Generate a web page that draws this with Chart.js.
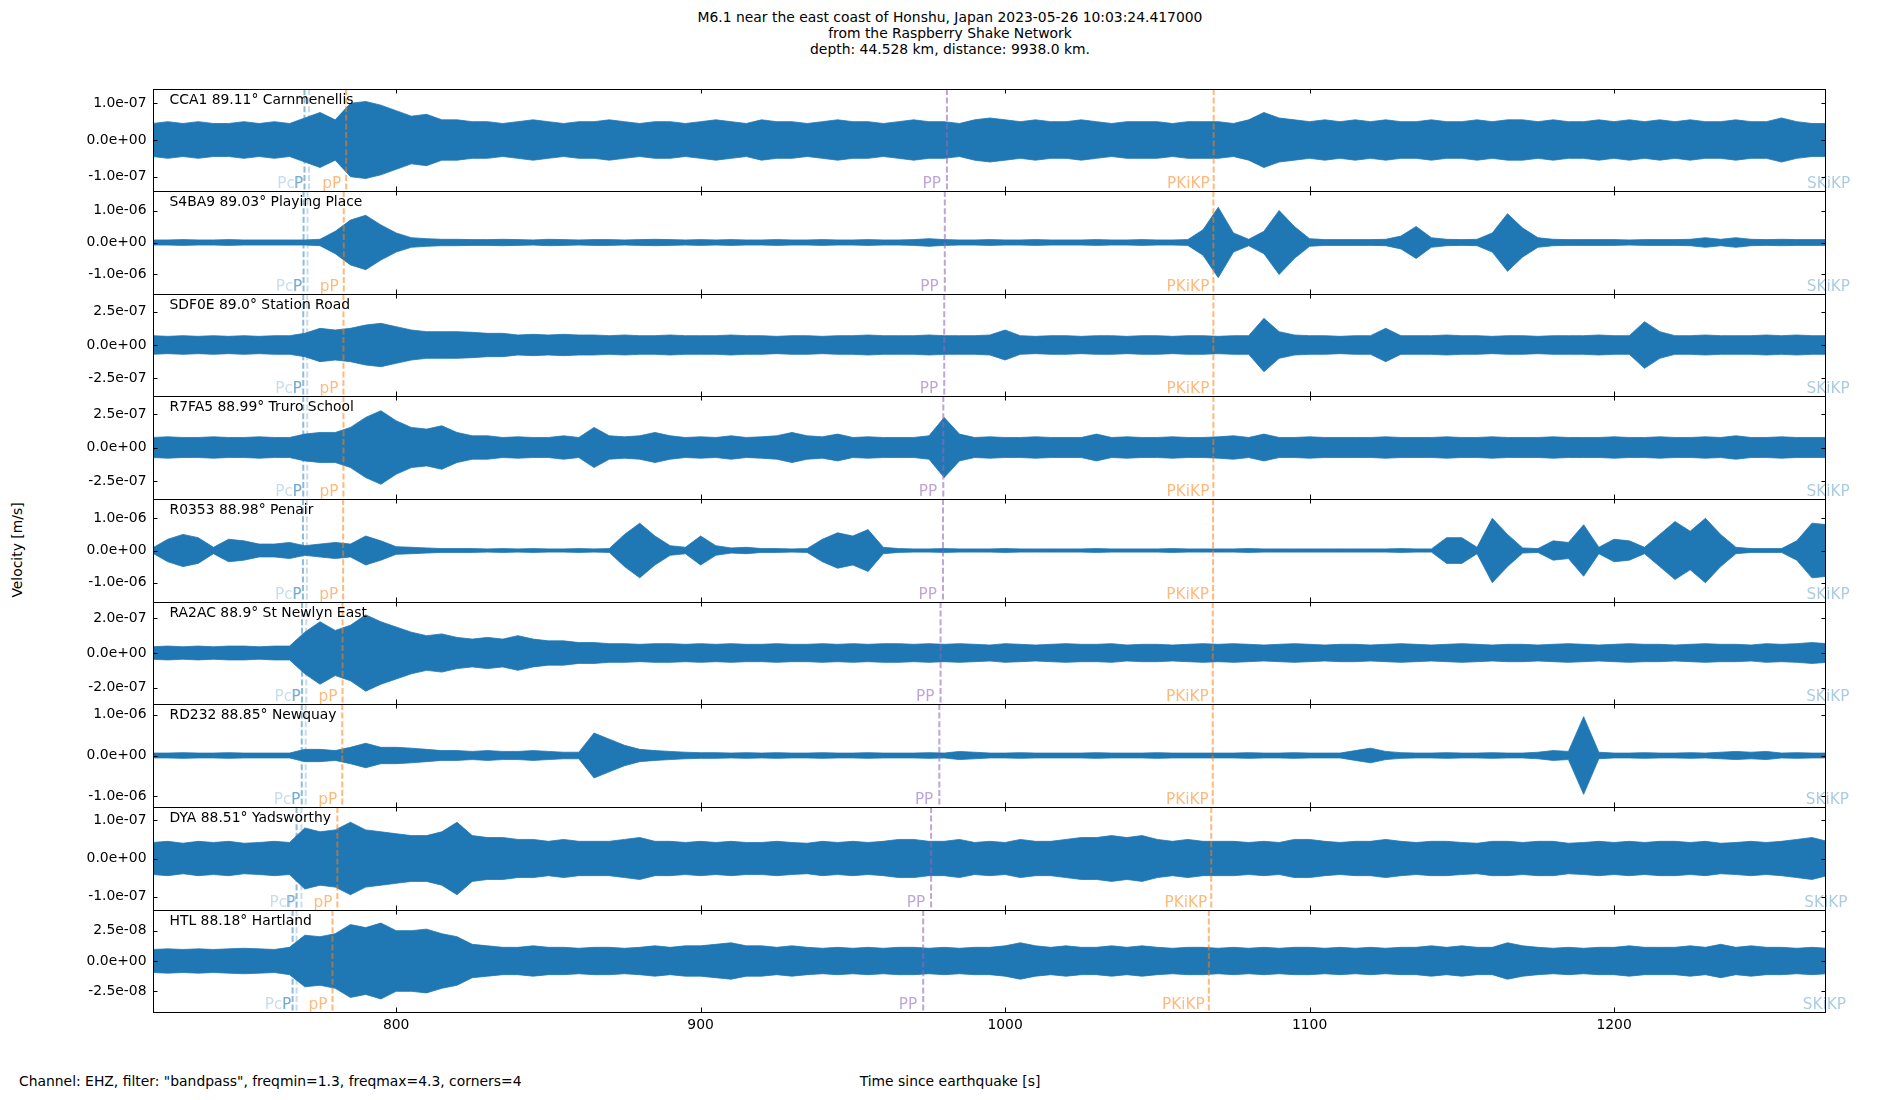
<!DOCTYPE html>
<html>
<head>
<meta charset="utf-8">
<script src="https://cdn.jsdelivr.net/npm/chart.js@4.4.0/dist/chart.umd.min.js"></script>
<style>
    body {
        margin: 0;
        width: 1900px;
        height: 1100px;
        position: relative;
        overflow: hidden;
        background: #fff;
        font-family: "DejaVu Sans", sans-serif;
    }
    .txt {
        position: absolute;
        font-size: 13.9px;
        line-height: 16px;
        color: #000;
        white-space: nowrap;
    }
    canvas {
        position: absolute;
        left: 0;
    }
</style>
</head>
<body>
<div class="txt" style="left:0;width:1900px;text-align:center;top:9px">M6.1 near the east coast of Honshu, Japan 2023-05-26 10:03:24.417000</div>
<div class="txt" style="left:0;width:1900px;text-align:center;top:25px">from the Raspberry Shake Network</div>
<div class="txt" style="left:0;width:1900px;text-align:center;top:41px">depth: 44.528 km, distance: 9938.0 km.</div>
<div class="txt" style="left:17px;top:550px;transform:translate(-50%,-50%) rotate(-90deg)">Velocity [m/s]</div>
<div class="txt" style="left:19px;top:1073px">Channel: EHZ, filter: "bandpass", freqmin=1.3, freqmax=4.3, corners=4</div>
<div class="txt" style="left:0;width:1900px;text-align:center;top:1073px">Time since earthquake [s]</div>

<script>
// station labels (name, distance, place)
const stations = [
    "CCA1 89.11° Carnmenellis",
    "S4BA9 89.03° Playing Place",
    "SDF0E 89.0° Station Road",
    "R7FA5 88.99° Truro School",
    "R0353 88.98° Penair",
    "RA2AC 88.9° St Newlyn East",
    "RD232 88.85° Newquay",
    "DYA 88.51° Yadsworthy",
    "HTL 88.18° Hartland",
];

// y tick step per station [m/s] and axis half range (in tick steps)
const tickSteps = [1e-7, 1e-6, 2.5e-7, 2.5e-7, 1e-6, 2e-7, 1e-6, 1e-7, 2.5e-8];
const halfRanges = [1.39, 1.61, 1.53, 1.54, 1.6, 1.47, 1.26, 1.35, 1.68];

const xTicks = [800, 900, 1000, 1100, 1200];
const xMin = 720.15;
const xMax = 1269.6;

// sample times [s] for the envelope values
const sampleTimes = [
    720, 725, 730, 735, 740, 745, 750, 755, 760, 765,
    770, 775, 780, 785, 790, 795, 800, 805, 810, 815,
    820, 825, 830, 835, 840, 845, 850, 855, 860, 865,
    870, 875, 880, 885, 890, 895, 900, 905, 910, 915,
    920, 925, 930, 935, 940, 945, 950, 955, 960, 965,
    970, 975, 980, 985, 990, 995, 1000, 1005, 1010, 1015,
    1020, 1025, 1030, 1035, 1040, 1045, 1050, 1055, 1060, 1065,
    1070, 1075, 1080, 1085, 1090, 1095, 1100, 1105, 1110, 1115,
    1120, 1125, 1130, 1135, 1140, 1145, 1150, 1155, 1160, 1165,
    1170, 1175, 1180, 1185, 1190, 1195, 1200, 1205, 1210, 1215,
    1220, 1225, 1230, 1235, 1240, 1245, 1250, 1255, 1260, 1265,
    1270,
];

// trace envelope (peak amplitude, in units of the station's tick step)
const envCCA1 = [
    0.45, 0.5, 0.45, 0.5, 0.45, 0.45, 0.5, 0.45, 0.5, 0.45,
    0.6, 0.75, 0.55, 1.0, 1.05, 0.95, 0.8, 0.65, 0.7, 0.55,
    0.55, 0.5, 0.5, 0.45, 0.5, 0.55, 0.5, 0.45, 0.5, 0.5,
    0.55, 0.5, 0.45, 0.5, 0.5, 0.45, 0.5, 0.55, 0.5, 0.45,
    0.55, 0.5, 0.5, 0.45, 0.5, 0.55, 0.5, 0.5, 0.45, 0.5,
    0.55, 0.5, 0.5, 0.45, 0.55, 0.6, 0.55, 0.5, 0.55, 0.5,
    0.5, 0.55, 0.5, 0.45, 0.5, 0.5, 0.5, 0.45, 0.5, 0.5,
    0.5, 0.45, 0.55, 0.75, 0.6, 0.55, 0.5, 0.55, 0.5, 0.55,
    0.5, 0.55, 0.5, 0.5, 0.55, 0.5, 0.5, 0.55, 0.5, 0.55,
    0.55, 0.5, 0.55, 0.5, 0.5, 0.55, 0.5, 0.55, 0.5, 0.55,
    0.5, 0.55, 0.5, 0.5, 0.55, 0.5, 0.5, 0.6, 0.5, 0.45,
    0.45,
];
const envS4BA9 = [
    0.08, 0.08, 0.09, 0.08, 0.08, 0.09, 0.08, 0.08, 0.08, 0.08,
    0.08, 0.1, 0.35, 0.7, 0.85, 0.55, 0.3, 0.15, 0.12, 0.1,
    0.1, 0.09, 0.09, 0.1, 0.09, 0.08, 0.1, 0.09, 0.08, 0.09,
    0.09, 0.08, 0.09, 0.1, 0.09, 0.08, 0.09, 0.08, 0.09, 0.08,
    0.08, 0.09, 0.08, 0.08, 0.09, 0.08, 0.08, 0.09, 0.08, 0.08,
    0.09, 0.12, 0.09, 0.08, 0.08, 0.09, 0.08, 0.08, 0.09, 0.08,
    0.08, 0.08, 0.09, 0.08, 0.08, 0.09, 0.08, 0.08, 0.09, 0.4,
    1.1, 0.3, 0.1, 0.35, 1.0, 0.5, 0.12, 0.09, 0.09, 0.09,
    0.09, 0.1, 0.2, 0.5, 0.15, 0.1, 0.09, 0.1, 0.3, 0.9,
    0.45, 0.15, 0.1, 0.09, 0.09, 0.09, 0.09, 0.08, 0.09, 0.09,
    0.09, 0.1, 0.15, 0.1, 0.15, 0.1, 0.09, 0.1, 0.09, 0.09,
    0.09,
];
const envSDF0E = [
    0.28, 0.26, 0.28, 0.26, 0.28, 0.26, 0.28, 0.26, 0.28, 0.28,
    0.35, 0.5, 0.45, 0.5, 0.6, 0.65, 0.55, 0.45, 0.4, 0.4,
    0.4, 0.38, 0.35, 0.35, 0.3, 0.32, 0.3, 0.32, 0.3, 0.3,
    0.28, 0.3, 0.28, 0.28, 0.3, 0.28, 0.28, 0.28, 0.3, 0.28,
    0.28, 0.26, 0.28, 0.28, 0.26, 0.28, 0.28, 0.3, 0.28, 0.28,
    0.28, 0.3, 0.28, 0.28, 0.28, 0.3, 0.45, 0.28, 0.26, 0.28,
    0.28, 0.26, 0.28, 0.28, 0.26, 0.28, 0.28, 0.26, 0.28, 0.28,
    0.26, 0.28, 0.28, 0.8, 0.4, 0.3, 0.28, 0.28, 0.26, 0.28,
    0.28, 0.5, 0.28, 0.28, 0.28, 0.3, 0.28, 0.28, 0.26, 0.28,
    0.28, 0.26, 0.28, 0.28, 0.28, 0.3, 0.28, 0.28, 0.7, 0.4,
    0.28, 0.28, 0.3, 0.28, 0.28, 0.28, 0.3, 0.28, 0.3, 0.28,
    0.28,
];
const envR7FA5 = [
    0.3, 0.32, 0.3, 0.3, 0.32, 0.3, 0.3, 0.32, 0.3, 0.3,
    0.4, 0.45, 0.45, 0.6, 0.9, 1.1, 0.8, 0.6, 0.55, 0.65,
    0.45, 0.35, 0.35, 0.3, 0.32, 0.3, 0.3, 0.35, 0.3, 0.6,
    0.35, 0.32, 0.35, 0.45, 0.35, 0.3, 0.32, 0.3, 0.35, 0.3,
    0.32, 0.35, 0.45, 0.35, 0.32, 0.4, 0.3, 0.32, 0.3, 0.3,
    0.3, 0.35, 0.9, 0.4, 0.3, 0.32, 0.3, 0.3, 0.32, 0.3,
    0.3, 0.3, 0.4, 0.3, 0.32, 0.3, 0.3, 0.32, 0.3, 0.3,
    0.32, 0.35, 0.3, 0.4, 0.3, 0.3, 0.32, 0.3, 0.3, 0.3,
    0.3, 0.32, 0.3, 0.3, 0.3, 0.32, 0.3, 0.3, 0.32, 0.3,
    0.3, 0.3, 0.32, 0.3, 0.3, 0.3, 0.32, 0.3, 0.3, 0.32,
    0.3, 0.3, 0.32, 0.3, 0.35, 0.3, 0.3, 0.32, 0.3, 0.3,
    0.3,
];
const envR0353 = [
    0.08, 0.35, 0.5, 0.4, 0.1, 0.35, 0.3, 0.2, 0.2, 0.25,
    0.15, 0.2, 0.25, 0.2, 0.45, 0.3, 0.12, 0.1, 0.08, 0.06,
    0.06, 0.06, 0.05, 0.06, 0.05, 0.06, 0.05, 0.05, 0.06, 0.05,
    0.06, 0.5, 0.85, 0.45, 0.15, 0.1, 0.45, 0.15, 0.08, 0.1,
    0.06, 0.06, 0.05, 0.06, 0.35, 0.55, 0.45, 0.65, 0.1, 0.06,
    0.05, 0.05, 0.06, 0.05, 0.05, 0.05, 0.06, 0.05, 0.05, 0.05,
    0.05, 0.05, 0.06, 0.05, 0.05, 0.05, 0.05, 0.06, 0.05, 0.05,
    0.05, 0.05, 0.06, 0.05, 0.05, 0.05, 0.05, 0.05, 0.05, 0.05,
    0.05, 0.05, 0.06, 0.05, 0.05, 0.4, 0.4, 0.1, 1.0, 0.5,
    0.08, 0.06, 0.3, 0.25, 0.8, 0.1, 0.35, 0.3, 0.1, 0.5,
    0.9, 0.6, 1.0, 0.5, 0.1, 0.06, 0.06, 0.06, 0.3, 0.85,
    0.8,
];
const envRA2AC = [
    0.18, 0.2, 0.18, 0.2, 0.18, 0.2, 0.2, 0.18, 0.2, 0.2,
    0.6, 0.9, 0.65, 0.8, 1.1, 0.9, 0.75, 0.6, 0.5, 0.55,
    0.45, 0.4, 0.45, 0.4, 0.5, 0.4, 0.35, 0.35, 0.3, 0.3,
    0.27, 0.27, 0.25, 0.27, 0.27, 0.25, 0.27, 0.25, 0.27, 0.25,
    0.25, 0.27, 0.25, 0.25, 0.27, 0.25, 0.27, 0.25, 0.27, 0.27,
    0.25, 0.27, 0.25, 0.27, 0.25, 0.23, 0.27, 0.25, 0.23, 0.25,
    0.27, 0.25, 0.25, 0.27, 0.23, 0.25, 0.25, 0.23, 0.25, 0.27,
    0.25, 0.27, 0.25, 0.23, 0.25, 0.27, 0.25, 0.23, 0.25, 0.25,
    0.23, 0.25, 0.27, 0.25, 0.23, 0.25, 0.27, 0.25, 0.23, 0.25,
    0.25, 0.23, 0.25, 0.27, 0.25, 0.23, 0.25, 0.27, 0.25, 0.25,
    0.23, 0.25, 0.27, 0.25, 0.25, 0.23, 0.27, 0.25, 0.27, 0.3,
    0.27,
];
const envRD232 = [
    0.06, 0.06, 0.07, 0.06, 0.06, 0.07, 0.06, 0.06, 0.06, 0.06,
    0.15, 0.15, 0.12, 0.2, 0.3, 0.2, 0.2, 0.18, 0.15, 0.12,
    0.12, 0.1, 0.12, 0.1, 0.1, 0.12, 0.1, 0.08, 0.08, 0.55,
    0.4, 0.25, 0.15, 0.12, 0.1, 0.08, 0.07, 0.07, 0.06, 0.07,
    0.06, 0.07, 0.06, 0.06, 0.07, 0.06, 0.06, 0.07, 0.06, 0.06,
    0.06, 0.07, 0.06, 0.1, 0.08, 0.06, 0.06, 0.07, 0.06, 0.06,
    0.06, 0.06, 0.07, 0.06, 0.06, 0.06, 0.07, 0.06, 0.06, 0.06,
    0.06, 0.06, 0.07, 0.06, 0.06, 0.07, 0.06, 0.06, 0.06, 0.12,
    0.18, 0.1, 0.07, 0.06, 0.06, 0.07, 0.06, 0.06, 0.07, 0.06,
    0.06, 0.08, 0.12, 0.1, 0.95, 0.08, 0.06, 0.06, 0.07, 0.06,
    0.06, 0.07, 0.06, 0.08, 0.1, 0.08, 0.1, 0.06, 0.07, 0.06,
    0.06,
];
const envDYA = [
    0.42, 0.45, 0.4, 0.45, 0.42, 0.45, 0.4, 0.42, 0.45, 0.42,
    0.8, 0.7, 0.75, 0.95, 0.75, 0.7, 0.65, 0.6, 0.6, 0.7,
    0.95, 0.6, 0.55, 0.55, 0.5, 0.5, 0.45, 0.5, 0.45, 0.45,
    0.45, 0.5, 0.55, 0.45, 0.45, 0.42, 0.45, 0.42, 0.45, 0.42,
    0.42, 0.45, 0.42, 0.4, 0.45, 0.42, 0.45, 0.42, 0.45, 0.5,
    0.5, 0.45, 0.45, 0.5, 0.42, 0.45, 0.42, 0.5, 0.45, 0.45,
    0.5, 0.55, 0.55, 0.6, 0.55, 0.6, 0.5, 0.45, 0.5, 0.45,
    0.45, 0.45, 0.42, 0.45, 0.42, 0.5, 0.5, 0.45, 0.42, 0.45,
    0.45, 0.5, 0.45, 0.42, 0.45, 0.45, 0.42, 0.4, 0.45, 0.45,
    0.42, 0.45, 0.45, 0.4, 0.42, 0.45, 0.42, 0.45, 0.42, 0.45,
    0.45, 0.42, 0.45, 0.4, 0.42, 0.45, 0.42, 0.45, 0.5, 0.55,
    0.45,
];
const envHTL = [
    0.38, 0.4, 0.38, 0.4, 0.38, 0.4, 0.42, 0.4, 0.38, 0.45,
    0.85, 0.8, 0.9, 1.2, 1.1, 1.25, 1.0, 1.0, 1.05, 0.9,
    0.8, 0.55, 0.5, 0.45, 0.45, 0.5, 0.45, 0.45, 0.42, 0.45,
    0.45, 0.42, 0.45, 0.5, 0.45, 0.5, 0.5, 0.55, 0.6, 0.5,
    0.5, 0.45, 0.5, 0.45, 0.42, 0.45, 0.42, 0.45, 0.42, 0.45,
    0.45, 0.42, 0.45, 0.42, 0.45, 0.45, 0.5, 0.6, 0.5, 0.45,
    0.5, 0.45, 0.45, 0.5, 0.45, 0.5, 0.45, 0.42, 0.45, 0.45,
    0.42, 0.45, 0.42, 0.45, 0.42, 0.45, 0.45, 0.42, 0.45, 0.42,
    0.45, 0.42, 0.45, 0.45, 0.5, 0.45, 0.5, 0.45, 0.45, 0.6,
    0.5, 0.45, 0.42, 0.45, 0.42, 0.45, 0.45, 0.5, 0.45, 0.45,
    0.45, 0.5, 0.45, 0.55, 0.45, 0.5, 0.45, 0.45, 0.42, 0.45,
    0.42,
];
const envelopes = [envCCA1, envS4BA9, envSDF0E, envR7FA5, envR0353, envRA2AC, envRD232, envDYA, envHTL];

// phase arrival times [s] per station
const phaseNames = ["PcP", "P", "pP", "PP", "PKiKP", "SKiKP"];
const tPcP = [771.4, 770.9, 770.8, 770.8, 770.7, 770.5, 770.3, 768.9, 767.3];
const tP = [769.9, 769.6, 769.5, 769.5, 769.4, 769.1, 769.0, 767.3, 766.0];
const tpP = [783.6, 782.8, 782.7, 782.7, 782.6, 782.4, 782.3, 780.7, 779.1];
const tPP = [980.9, 980.2, 980.0, 979.7, 979.6, 978.8, 978.4, 975.7, 973.1];
const tPKiKP = [1068.5, 1068.4, 1068.4, 1068.4, 1068.3, 1068.2, 1068.2, 1067.7, 1066.9];
const tSKiKP = [1278.9, 1278.8, 1278.7, 1278.7, 1278.7, 1278.6, 1278.5, 1278.0, 1277.5];
const phaseTimes = [tPcP, tP, tpP, tPP, tPKiKP, tSKiKP];

const phaseColors = [
    "rgba(31,119,180,0.25)",
    "rgba(31,119,180,0.5)",
    "rgba(255,127,14,0.55)",
    "rgba(148,103,189,0.6)",
    "rgba(255,127,14,0.55)",
    "rgba(31,119,180,0.38)",
];
const labelGaps = [5, 1.5, 5, 6, 4, 4];

const traceColor = "#1f77b4";
const fontFamily = "'DejaVu Sans', sans-serif";
const plotTop = 88.7;
const panelH = 102.6;
const plotLeft = 153;
const plotRight = 1826;
const canvasPad = 10;
const xAxisH = 30;

function fmtExp(v) {
    if (v === 0) return "0.0e+00";
    return v.toExponential(1).replace(/e([+-])(\d+)$/, function (m, s, d) {
        return "e" + s + (d.length < 2 ? "0" + d : d);
    });
}

function noLabelPadding(s) {
    s.paddingTop = 0;
    s.paddingBottom = 0;
    s.paddingLeft = 0;
    s.paddingRight = 0;
}

const panelDecor = {
    id: "panelDecor",
    afterDatasetsDraw(chart, args, opts) {
        const { ctx, chartArea: a } = chart;
        const x = chart.scales.x;
        const y = chart.scales.y;
        const i = opts.index;
        ctx.save();

        // phase lines (clipped to the axes)
        ctx.save();
        ctx.beginPath();
        ctx.rect(a.left, a.top, a.right - a.left, a.bottom - a.top);
        ctx.clip();
        ctx.lineWidth = 2;
        ctx.setLineDash([6, 2.6]);
        phaseTimes.forEach((times, k) => {
            const px = x.getPixelForValue(times[i]);
            ctx.strokeStyle = phaseColors[k];
            ctx.beginPath();
            ctx.moveTo(px, a.top);
            ctx.lineTo(px, a.bottom);
            ctx.stroke();
        });
        ctx.restore();

        // phase labels
        ctx.font = "15.3px " + fontFamily;
        ctx.textAlign = "right";
        ctx.textBaseline = "alphabetic";
        phaseTimes.forEach((times, k) => {
            const px = x.getPixelForValue(times[i]);
            ctx.fillStyle = phaseColors[k];
            ctx.fillText(phaseNames[k], px - labelGaps[k], a.bottom - 3.5);
        });

        // frame
        ctx.strokeStyle = "#000";
        ctx.lineWidth = 1;
        ctx.setLineDash([]);
        ctx.strokeRect(a.left + 0.5, a.top + 0.5, a.right - a.left - 1, a.bottom - a.top);

        // inward ticks
        ctx.beginPath();
        y.ticks.forEach((t) => {
            const py = Math.round(y.getPixelForValue(t.value)) + 0.5;
            ctx.moveTo(a.left, py);
            ctx.lineTo(a.left + 4.5, py);
            ctx.moveTo(a.right, py);
            ctx.lineTo(a.right - 4.5, py);
        });
        xTicks.forEach((v) => {
            const px = Math.round(x.getPixelForValue(v)) + 0.5;
            ctx.moveTo(px, a.top);
            ctx.lineTo(px, a.top + 4.5);
            ctx.moveTo(px, a.bottom);
            ctx.lineTo(px, a.bottom - 4.5);
        });
        ctx.stroke();

        // station label
        ctx.fillStyle = "#000";
        ctx.textAlign = "left";
        ctx.font = "13.9px " + fontFamily;
        ctx.fillText(stations[i], a.left + 16.5, a.top + 14.5);
        ctx.restore();
    },
};

stations.forEach((name, i) => {
    const top = Math.round(plotTop + i * panelH);
    const bottom = Math.round(plotTop + (i + 1) * panelH);
    const isLast = i === stations.length - 1;
    const cv = document.createElement("canvas");
    cv.width = 1900;
    cv.height = bottom - top + canvasPad * 2 + (isLast ? xAxisH : 0);
    cv.style.top = top - canvasPad + "px";
    document.body.appendChild(cv);

    const step = tickSteps[i];
    const lim = halfRanges[i] * step;
    const env = envelopes[i];
    const upper = sampleTimes.map((t, k) => ({ x: t, y: env[k] * step }));
    const lower = sampleTimes.map((t, k) => ({ x: t, y: -env[k] * step }));

    new Chart(cv, {
        type: "line",
        data: {
            datasets: [
                {
                    data: upper,
                    borderColor: traceColor,
                    borderWidth: 0.8,
                    pointRadius: 0,
                    fill: false,
                },
                {
                    data: lower,
                    borderColor: traceColor,
                    borderWidth: 0.8,
                    pointRadius: 0,
                    backgroundColor: traceColor,
                    fill: "-1",
                },
            ],
        },
        plugins: [panelDecor],
        options: {
            responsive: false,
            animation: false,
            devicePixelRatio: 1,
            layout: {
                padding: { top: canvasPad, bottom: canvasPad, left: 0, right: 1900 - plotRight },
            },
            plugins: {
                legend: { display: false },
                tooltip: { enabled: false },
                panelDecor: { index: i },
            },
            scales: {
                x: {
                    type: "linear",
                    min: xMin,
                    max: xMax,
                    display: isLast,
                    grid: { display: false, drawTicks: false },
                    border: { display: false },
                    afterBuildTicks: (s) => {
                        s.ticks = xTicks.map((v) => ({ value: v }));
                    },
                    afterFit: (s) => {
                        s.height = isLast ? xAxisH : 0;
                        noLabelPadding(s);
                    },
                    ticks: {
                        autoSkip: false,
                        maxRotation: 0,
                        padding: 5,
                        color: "#000",
                        font: { family: fontFamily, size: 13.9 },
                        callback: (v) => String(v),
                    },
                },
                y: {
                    min: -lim,
                    max: lim,
                    grid: { display: false, drawTicks: false },
                    border: { display: false },
                    afterBuildTicks: (s) => {
                        s.ticks = [-step, 0, step].map((v) => ({ value: v }));
                    },
                    afterFit: (s) => {
                        s.width = plotLeft;
                        noLabelPadding(s);
                    },
                    ticks: {
                        autoSkip: false,
                        padding: 6.5,
                        color: "#000",
                        font: { family: fontFamily, size: 13.9 },
                        callback: (v) => fmtExp(v),
                    },
                },
            },
        },
    });
});
</script>
</body>
</html>
